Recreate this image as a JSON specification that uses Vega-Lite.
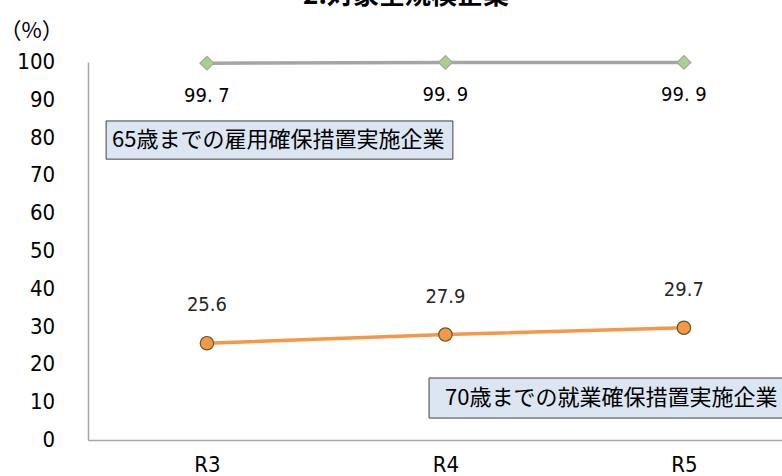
{
  "$schema": "https://vega.github.io/schema/vega-lite/v6.json",
  "width": 694,
  "height": 378,
  "autosize": {"type": "none"},
  "padding": {"left": 88, "top": 62, "right": 0, "bottom": 36},
  "background": "white",
  "config": {"view": {"stroke": null}, "axis": {"labelOverlap": false}},
  "title": {
    "text": "2.対象全規模企業",
    "font": "Noto Sans CJK JP",
    "fontSize": 26,
    "fontWeight": "bold",
    "color": "#000000",
    "anchor": "middle",
    "baseline": "bottom",
    "offset": 14,
    "dy": 30,
    "dx": -29
  },
  "datasets": {
    "series": [
      {"year": "R3", "value": 99.7, "label": "99. 7", "series": "65"},
      {"year": "R4", "value": 99.9, "label": "99. 9", "series": "65"},
      {"year": "R5", "value": 99.9, "label": "99. 9", "series": "65"},
      {"year": "R3", "value": 25.6, "label": "25.6", "series": "70"},
      {"year": "R4", "value": 27.9, "label": "27.9", "series": "70"},
      {"year": "R5", "value": 29.7, "label": "29.7", "series": "70"}
    ],
    "boxes": [
      {"x1": -0.423, "x2": 1.031, "y1": 84.4, "y2": 74.3, "tx": -0.398, "ty": 79.4, "text": "65歳までの雇用確保措置実施企業"},
      {"x1": 0.931, "x2": 2.6, "y1": 16.4, "y2": 5.8, "tx": 0.998, "ty": 11.1, "text": "70歳までの就業確保措置実施企業"}
    ],
    "ticks": [
      {"tick": 0, "pos": -0.637}, {"tick": 10, "pos": -0.637}, {"tick": 20, "pos": -0.637},
      {"tick": 30, "pos": -0.637}, {"tick": 40, "pos": -0.637}, {"tick": 50, "pos": -0.637},
      {"tick": 60, "pos": -0.637}, {"tick": 70, "pos": -0.637}, {"tick": 80, "pos": -0.637},
      {"tick": 90, "pos": -0.637}, {"tick": 100, "pos": -0.637}
    ]
  },
  "encoding": {
    "y": {
      "type": "quantitative",
      "scale": {"domain": [0, 100], "nice": false},
      "axis": {
        "labels": false,
        "grid": false, "ticks": false, "domainColor": "#a6a6a6", "domainWidth": 1.5,
        "title": "（%）", "titleAngle": 0, "titleFont": "Noto Sans CJK JP", "titleFontSize": 22, "titleFontWeight": "normal",
        "titleColor": "#000000", "titleX": -57, "titleY": -32, "titleAlign": "center", "titleBaseline": "middle"
      }
    }
  },
  "layer": [
    {
      "data": {"name": "boxes"},
      "mark": {"type": "rect", "fill": "#dce6f2", "stroke": "#404040", "strokeWidth": 1},
      "encoding": {
        "x": {"field": "x1", "type": "quantitative", "scale": {"domain": [-0.49895, 2.41094], "nice": false, "zero": false}, "axis": null},
        "x2": {"field": "x2"},
        "y": {"field": "y1"},
        "y2": {"field": "y2"}
      }
    },
    {
      "data": {"name": "boxes"},
      "mark": {"type": "text", "align": "left", "baseline": "middle", "font": "Noto Sans CJK JP", "fontSize": 22, "color": "#000000"},
      "encoding": {
        "x": {"field": "tx", "type": "quantitative", "scale": {"domain": [-0.49895, 2.41094], "nice": false, "zero": false}, "axis": null},
        "y": {"field": "ty"},
        "text": {"field": "text"}
      }
    },
    {
      "data": {"name": "ticks"},
      "mark": {"type": "text", "align": "right", "baseline": "middle", "font": "DejaVu Sans Condensed, Liberation Sans", "fontSize": 22, "color": "#000000", "clip": false},
      "encoding": {
        "x": {"field": "pos", "type": "quantitative", "scale": {"domain": [-0.49895, 2.41094], "nice": false, "zero": false}, "axis": null},
        "y": {"field": "tick"},
        "text": {"field": "tick", "type": "quantitative"}
      }
    },
    {
      "data": {"name": "series"},
      "encoding": {
        "x": {
          "field": "year", "type": "ordinal",
          "scale": {"type": "point", "padding": 0.455, "align": 0.548},
          "axis": {
            "title": null, "labelAngle": 0, "ticks": false, "domainColor": "#a6a6a6", "domainWidth": 1.5,
            "labelFont": "DejaVu Sans Condensed, Liberation Sans", "labelFontSize": 22, "labelColor": "#000000", "labelPadding": 14
          }
        },
        "y": {"field": "value"}
      },
      "layer": [
        {
          "mark": {"type": "line", "strokeWidth": 3.5},
          "encoding": {
            "color": {"field": "series", "type": "nominal", "scale": {"domain": ["65", "70"], "range": ["#a5a5a5", "#f79646"]}, "legend": null},
            "detail": {"field": "series"}
          }
        },
        {
          "mark": {"type": "point", "filled": true, "strokeWidth": 1.2, "opacity": 1},
          "encoding": {
            "shape": {"field": "series", "type": "nominal", "scale": {"domain": ["65", "70"], "range": ["diamond", "circle"]}, "legend": null},
            "fill": {"field": "series", "type": "nominal", "scale": {"domain": ["65", "70"], "range": ["#a9d18e", "#f79646"]}, "legend": null},
            "stroke": {"field": "series", "type": "nominal", "scale": {"domain": ["65", "70"], "range": ["#a5a5a5", "#4f6228"]}, "legend": null},
            "size": {"field": "series", "type": "nominal", "scale": {"domain": ["65", "70"], "range": [190, 180]}, "legend": null}
          }
        },
        {
          "transform": [{"filter": "datum.series === '65'"}],
          "mark": {"type": "text", "dy": 33, "baseline": "middle", "font": "DejaVu Sans Condensed, Liberation Sans", "fontSize": 20, "color": "#000000"},
          "encoding": {"text": {"field": "label"}}
        },
        {
          "transform": [{"filter": "datum.series === '70'"}],
          "mark": {"type": "text", "dy": -38, "baseline": "middle", "font": "DejaVu Sans Condensed, Liberation Sans", "fontSize": 20, "color": "#262626"},
          "encoding": {"text": {"field": "label"}}
        }
      ]
    }
  ],
  "resolve": {"scale": {"x": "independent"}}
}
